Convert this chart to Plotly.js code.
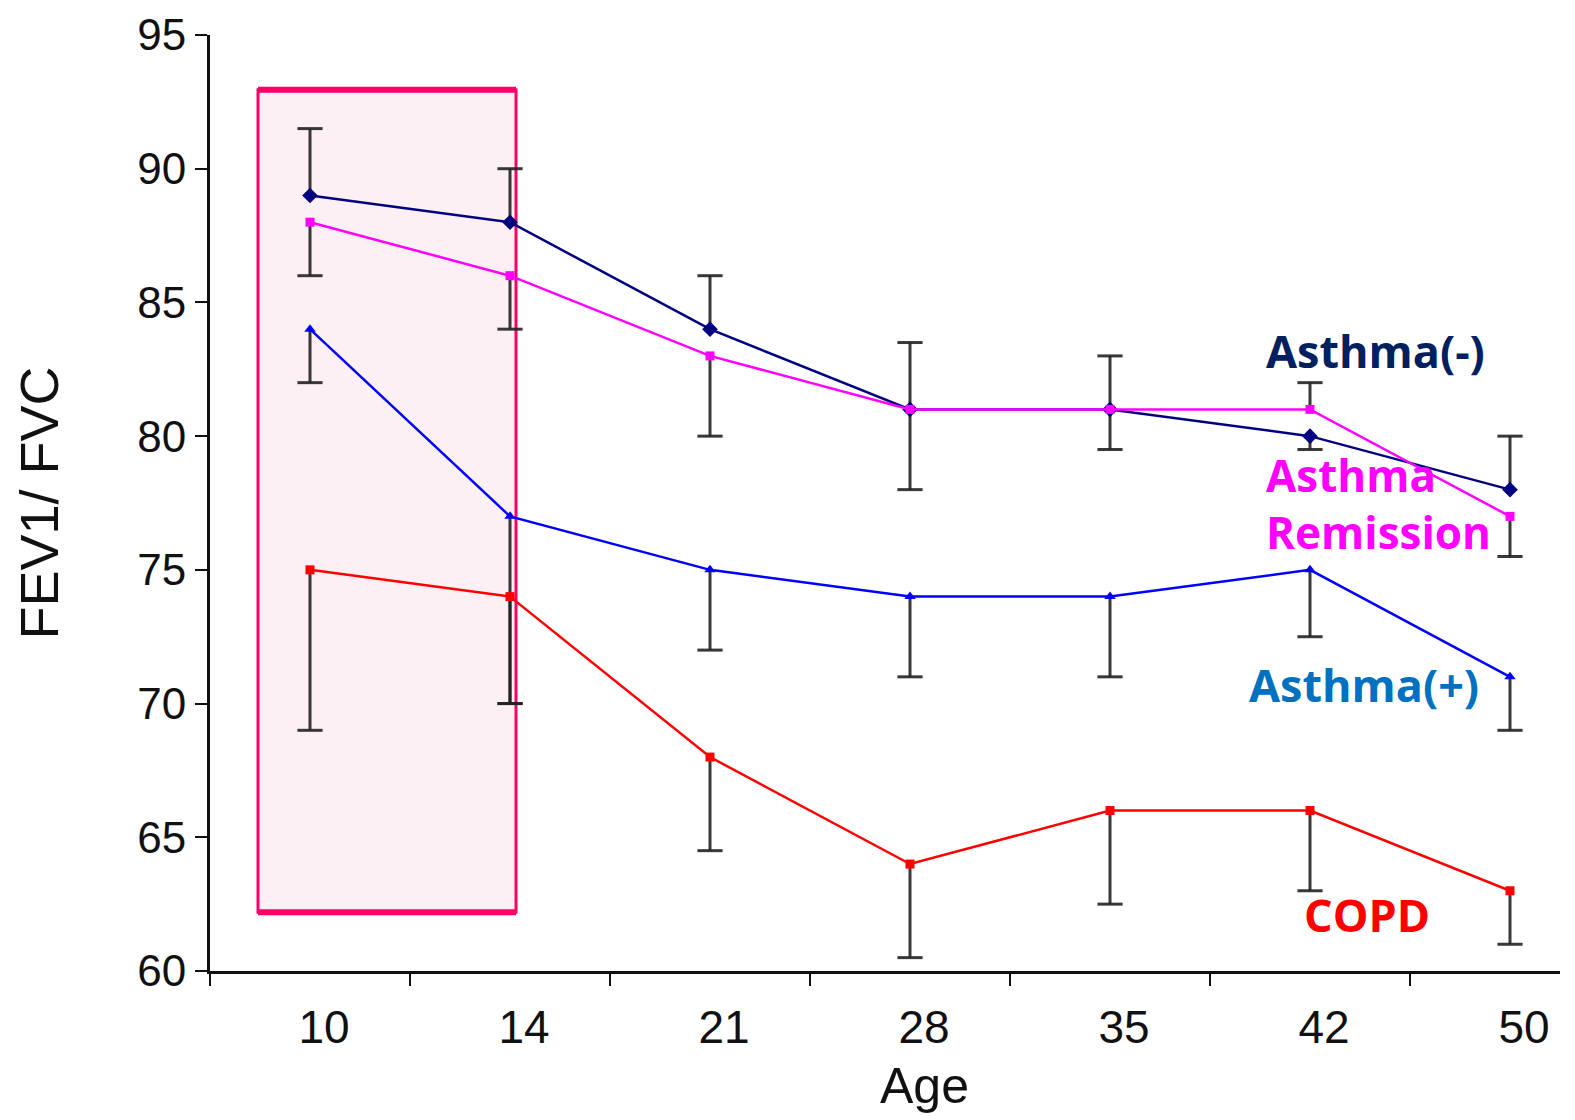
<!DOCTYPE html>
<html>
<head>
<meta charset="utf-8">
<script src="https://cdn.plot.ly/plotly-3.0.1.min.js"></script>
<style>html,body{margin:0;padding:0;background:#fff;}#chart{width:1575px;height:1120px;}</style>
</head>
<body>
<div id="chart"></div>
<script>
// ---- data ----
var ages = ['10','14','21','28','35','42','50'];
var asthmaNeg      = [89, 88, 84, 81, 81, 80, 78];
var asthmaNegPlus  = [2.5, 2, 2, 2.5, 2, 0, 2];
var asthmaNegMinus = [0, 0, 0, 0, 0, 0.5, 0];
var remission      = [88, 86, 83, 81, 81, 81, 77];
var remissionPlus  = [0, 0, 0, 0, 0, 1, 0];
var remissionMinus = [2, 2, 3, 3, 1.5, 0, 1.5];
var asthmaPos      = [84, 77, 75, 74, 74, 75, 71];
var asthmaPosPlus  = [0, 0, 0, 0, 0, 0, 0];
var asthmaPosMinus = [2, 7, 3, 3, 3, 2.5, 2];
var copd           = [75, 74, 68, 64, 66, 66, 63];
var copdPlus       = [0, 0, 0, 0, 0, 0, 0];
var copdMinus      = [6, 4, 3.5, 3.5, 3.5, 3, 2];

var idx = ages.map(function(_, i){ return i; });
var errColor = 'rgba(35,35,35,0.9)';

var series = [
  {y: asthmaNeg, p: asthmaNegPlus, m: asthmaNegMinus, color: '#000080', symbol: 'diamond', size: 12},
  {y: remission, p: remissionPlus, m: remissionMinus, color: '#ff00ff', symbol: 'square', size: 9},
  {y: asthmaPos, p: asthmaPosPlus, m: asthmaPosMinus, color: '#0000ff', symbol: 'triangle-up', size: 10},
  {y: copd, p: copdPlus, m: copdMinus, color: '#ff0000', symbol: 'square', size: 9}
];

var traces = [];
// error bars (stems via library error_y, caps via line markers)
series.forEach(function(s){
  traces.push({
    x: idx, y: s.y, type: 'scatter', mode: 'markers',
    marker: {size: 0.1, opacity: 0},
    error_y: {type: 'data', symmetric: false, array: s.p, arrayminus: s.m,
              width: 0, thickness: 3, color: errColor},
    hoverinfo: 'skip', showlegend: false
  });
  var cx = [], cy = [];
  s.y.forEach(function(v, i){
    if (s.p[i] > 0) { cx.push(i); cy.push(v + s.p[i]); }
    if (s.m[i] > 0) { cx.push(i); cy.push(v - s.m[i]); }
  });
  traces.push({
    x: cx, y: cy, type: 'scatter', mode: 'markers',
    marker: {symbol: 'line-ew', size: 18, color: errColor, line: {width: 3, color: errColor}},
    hoverinfo: 'skip', showlegend: false, cliponaxis: false
  });
});
// series lines
series.forEach(function(s){
  traces.push({
    x: idx, y: s.y, type: 'scatter', mode: 'lines+markers',
    line: {color: s.color, width: 2.5},
    marker: {symbol: s.symbol, size: s.size, color: s.color},
    showlegend: false
  });
});

var axisFont = 'Liberation Sans, Arial, sans-serif';
var labelFont = 'Open Sans, Noto Sans, sans-serif';

var layout = {
  width: 1575, height: 1120,
  margin: {l: 210, r: 15, t: 35, b: 149},
  paper_bgcolor: '#ffffff', plot_bgcolor: '#ffffff',
  showlegend: false,
  font: {family: axisFont, color: '#111'},
  xaxis: {
    range: [-0.5, 6.25], tickmode: 'array', tickvals: idx, ticktext: ages,
    ticks: '', showgrid: false, zeroline: false,
    showline: true, linecolor: '#111', linewidth: 3,
    tickfont: {size: 46, family: axisFont, color: '#111'},
    ticklabelshift: 14, ticklabelstandoff: 14,
    minor: {tickmode: 'array', tickvals: [-0.5, 0.5, 1.5, 2.5, 3.5, 4.5, 5.5],
            ticks: 'outside', ticklen: 12, tickwidth: 2, tickcolor: '#111', showgrid: false}
  },
  yaxis: {
    range: [60, 95], tickmode: 'array', tickvals: [60,65,70,75,80,85,90,95],
    ticks: 'outside', ticklen: 12, tickwidth: 2, tickcolor: '#111',
    showgrid: false, zeroline: false,
    showline: true, linecolor: '#111', linewidth: 3,
    tickfont: {size: 44, family: axisFont, color: '#111'},
    title: {text: 'FEV1/ FVC', font: {size: 54, family: axisFont, color: '#111'}, standoff: 62}
  },
  shapes: [
    {type: 'rect', xref: 'x', yref: 'y', x0: -0.26, x1: 1.03, y0: 62.2, y1: 92.95,
     fillcolor: '#fcf0f4', line: {width: 3, color: '#ff0066'}, layer: 'below'},
    {type: 'line', xref: 'x', yref: 'y', x0: -0.26, x1: 1.03, y0: 92.95, y1: 92.95,
     line: {width: 6, color: '#ff0066'}, layer: 'below'},
    {type: 'line', xref: 'x', yref: 'y', x0: -0.26, x1: 1.03, y0: 62.2, y1: 62.2,
     line: {width: 6, color: '#ff0066'}, layer: 'below'}
  ],
  annotations: [
    {xref: 'x', yref: 'paper', x: 3.07, y: 0, yshift: -115, xanchor: 'center', yanchor: 'middle', showarrow: false,
     text: 'Age', font: {size: 50, family: axisFont, color: '#111'}},
    {xref: 'x', yref: 'y', x: 4.77, y: 83.2, xanchor: 'left', yanchor: 'middle', showarrow: false,
     text: 'Asthma(-)', font: {family: labelFont, size: 45, color: '#002060', weight: 700}},
    {xref: 'x', yref: 'y', x: 4.77, y: 77.5, xanchor: 'left', yanchor: 'middle', showarrow: false, align: 'left',
     text: 'Asthma<br>Remission', font: {family: labelFont, size: 44, color: '#ff00ff', weight: 700}},
    {xref: 'x', yref: 'y', x: 4.685, y: 70.7, xanchor: 'left', yanchor: 'middle', showarrow: false,
     text: 'Asthma(+)', font: {family: labelFont, size: 45, color: '#0070c0', weight: 700}},
    {xref: 'x', yref: 'y', x: 4.96, y: 62.1, xanchor: 'left', yanchor: 'middle', showarrow: false,
     text: 'COPD', font: {family: labelFont, size: 45, color: '#ff0000', weight: 700}}
  ]
};

Plotly.newPlot('chart', traces, layout, {displayModeBar: false, staticPlot: true});
</script>
</body>
</html>
